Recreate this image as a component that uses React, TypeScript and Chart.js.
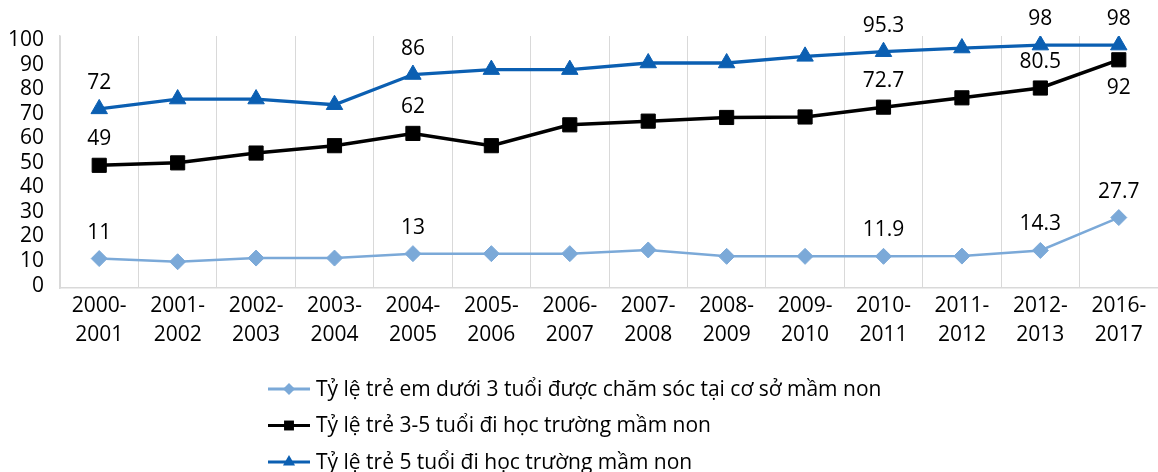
import { useEffect, useRef } from 'react';
import { Chart, registerables } from 'chart.js';

Chart.register(...registerables);

const categories = [
  '2000-2001', '2001-2002', '2002-2003', '2003-2004', '2004-2005', '2005-2006', '2006-2007',
  '2007-2008', '2008-2009', '2009-2010', '2010-2011', '2011-2012', '2012-2013', '2016-2017',
];
const under3Values = [11, 9.7, 11.2, 11.2, 13, 13, 13, 14.5, 11.9, 11.9, 11.9, 12, 14.3, 27.7];
const age3to5Values = [49, 50, 54, 57, 62, 57, 65.5, 67, 68.5, 68.7, 72.7, 76.5, 80.5, 92];
const age5Values = [72, 76, 76, 73.7, 86, 88, 88, 90.7, 90.7, 93.4, 95.3, 96.8, 98, 98];
const seriesNames = [
  'Tỷ lệ trẻ em dưới 3 tuổi được chăm sóc tại cơ sở mầm non',
  'Tỷ lệ trẻ 3-5 tuổi đi học trường mầm non',
  'Tỷ lệ trẻ 5 tuổi đi học trường mầm non',
];
const yTicks = [0, 10, 20, 30, 40, 50, 60, 70, 80, 90, 100];
const labelledIndices = [0, 4, 10, 12, 13];
const labelBelow = [[], [13], []];

const FONT = "'Open Sans', sans-serif";
const LIGHT = '#7BA9D8';
const DARK = '#0B5FB2';
const BLACK = '#000000';
const GRID = '#d9d9d9';

function drawMarker(ctx: CanvasRenderingContext2D, style: string, x: number, y: number, r: number) {
  ctx.beginPath();
  if (style === 'rectRot') {
    ctx.moveTo(x, y - r);
    ctx.lineTo(x + r, y);
    ctx.lineTo(x, y + r);
    ctx.lineTo(x - r, y);
  } else if (style === 'rect') {
    const s = r * Math.SQRT1_2;
    ctx.rect(x - s, y - s, 2 * s, 2 * s);
  } else {
    ctx.moveTo(x, y - r);
    ctx.lineTo(x + r * Math.sin(Math.PI / 3), y + r / 2);
    ctx.lineTo(x - r * Math.sin(Math.PI / 3), y + r / 2);
  }
  ctx.closePath();
  ctx.fill();
}

export default function App() {
  const ref = useRef<HTMLCanvasElement>(null);

  useEffect(() => {
    document.body.style.margin = '0';
    const canvas = ref.current;
    if (!canvas) return;

    const valueLabels = {
      id: 'valueLabels',
      afterDatasetsDraw(chart: any) {
        const ctx = chart.ctx;
        ctx.save();
        ctx.font = `21px ${FONT}`;
        ctx.fillStyle = '#000';
        ctx.textAlign = 'center';
        ctx.textBaseline = 'middle';
        chart.data.datasets.forEach((ds: any, di: number) => {
          const meta = chart.getDatasetMeta(di);
          labelledIndices.forEach((i) => {
            const pt = meta.data[i];
            const below = labelBelow[di].includes(i);
            ctx.fillText(String(ds.data[i]), pt.x, pt.y + (below ? 28 : -26));
          });
        });
        ctx.restore();
      },
    };

    const stackedLegend = {
      id: 'stackedLegend',
      afterDraw(chart: any) {
        const ctx = chart.ctx;
        ctx.save();
        ctx.font = `21px ${FONT}`;
        ctx.textAlign = 'left';
        ctx.textBaseline = 'middle';
        const x0 = 268;
        const y0 = 389;
        const step = 36.5;
        chart.data.datasets.forEach((ds: any, di: number) => {
          const y = y0 + di * step;
          ctx.strokeStyle = ds.borderColor;
          ctx.fillStyle = ds.borderColor;
          ctx.lineWidth = 3;
          ctx.beginPath();
          ctx.moveTo(x0, y);
          ctx.lineTo(x0 + 42, y);
          ctx.stroke();
          const r = ds.pointStyle === 'rect' ? 7 : ds.pointStyle === 'triangle' ? 7 : 6;
          drawMarker(ctx, ds.pointStyle, x0 + 21, y, r);
          ctx.fillStyle = '#000';
          ctx.fillText(ds.label, x0 + 48, y + 1);
        });
        ctx.restore();
      },
    };

    const chart = new Chart(canvas, {
      type: 'line',
      data: {
        labels: categories.map((c) => {
          const [a, b] = c.split('-');
          return [a + '-', b];
        }),
        datasets: [
          {
            label: seriesNames[0],
            data: under3Values,
            borderColor: LIGHT,
            backgroundColor: LIGHT,
            borderWidth: 2.5,
            pointStyle: 'rectRot',
            pointRadius: 8,
            pointBorderWidth: 1,
            tension: 0,
          },
          {
            label: seriesNames[1],
            data: age3to5Values,
            borderColor: BLACK,
            backgroundColor: BLACK,
            borderWidth: 3.5,
            pointStyle: 'rect',
            pointRadius: 10,
            pointBorderWidth: 1,
            tension: 0,
          },
          {
            label: seriesNames[2],
            data: age5Values,
            borderColor: DARK,
            backgroundColor: DARK,
            borderWidth: 3.3,
            pointStyle: 'triangle',
            pointRadius: 9.5,
            pointBorderWidth: 1,
            tension: 0,
          },
        ],
      },
      options: {
        responsive: false,
        animation: false,
        events: [],
        layout: { autoPadding: false, padding: { top: 36, bottom: 114, left: 0, right: 0 } },
        plugins: {
          legend: { display: false },
          tooltip: { enabled: false },
        },
        scales: {
          x: {
            offset: true,
            grid: { display: true, color: GRID, lineWidth: 1, offset: true, drawTicks: false },
            border: { display: true, color: GRID, width: 1.5 },
            ticks: {
              color: '#000',
              padding: 3,
              maxRotation: 0,
              autoSkip: false,
              font: { family: FONT, size: 21, lineHeight: 1.4 },
            },
            afterFit: (scale: any) => {
              scale.height = 70;
              scale.paddingLeft = 0;
              scale.paddingRight = 0;
            },
          },
          y: {
            min: -1,
            max: 101.7,
            grid: { display: false, drawTicks: false },
            border: { display: true, color: GRID, width: 1.5 },
            ticks: {
              color: '#000',
              padding: 16,
              autoSkip: false,
              font: { family: FONT, size: 21 },
            },
            afterBuildTicks: (scale: any) => {
              scale.ticks = yTicks.map((v) => ({ value: v }));
            },
            afterFit: (scale: any) => {
              scale.width = 60;
              scale.paddingTop = 0;
              scale.paddingBottom = 0;
            },
          },
        },
      },
      plugins: [valueLabels, stackedLegend],
    } as any);

    return () => chart.destroy();
  }, []);

  return (
    <canvas
      ref={ref}
      width={1158}
      height={472}
      style={{ position: 'absolute', left: 0, top: 0, display: 'block' }}
    />
  );
}
